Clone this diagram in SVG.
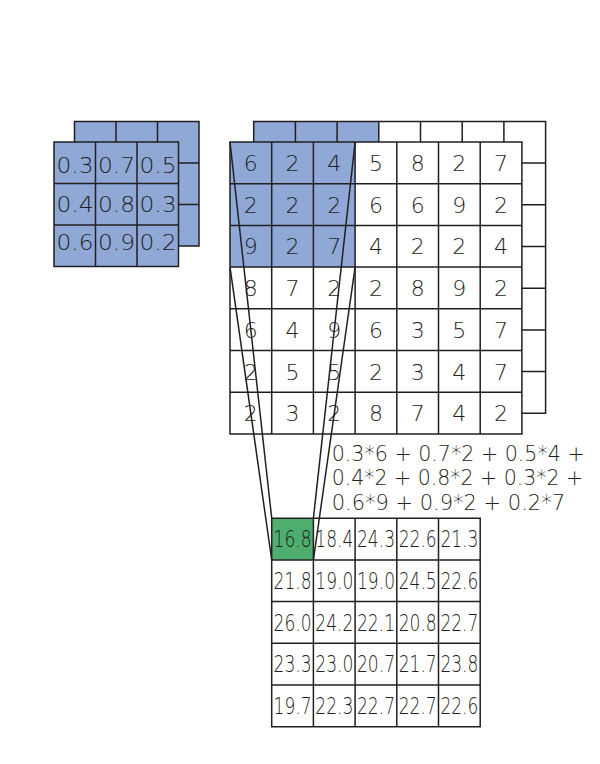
<svg xmlns="http://www.w3.org/2000/svg" width="600" height="764" viewBox="0 0 600 764">
<style>
.g{stroke:#231f20;stroke-width:1.5;fill:none}
.w{fill:#ffffff}
.b{fill:#8fa8d6}
.gr{fill:#4dae6e}
text{font-family:"DejaVu Sans","Liberation Sans",Arial,sans-serif;font-weight:200;fill:#231f20;text-anchor:middle}
.k text{font-size:22px}
.i text{font-size:22px}
.o text{font-size:23px}
.f text{font-size:22px;text-anchor:start}
.c{stroke:#231f20;stroke-width:1.5;fill:none}
</style>
<rect width="600" height="764" fill="#ffffff"/>
<g id="kernel">
<rect class="b" x="74.5" y="121.5" width="124.5" height="124.5"/>
<path class="g" d="M74.5 121.5H199V246H74.5Z M116 121.5V246 M157.5 121.5V246 M74.5 163H199 M74.5 204.5H199"/>
<rect class="b" x="54" y="142" width="124.5" height="124.5"/>
<path class="g" d="M54 142H178.5V266.5H54Z M95.5 142V266.5 M137 142V266.5 M54 183.5H178.5 M54 225H178.5"/>
<g class="k">
<text x="75" y="173.3" textLength="37" lengthAdjust="spacingAndGlyphs">0.3</text>
<text x="116.5" y="173.3" textLength="37" lengthAdjust="spacingAndGlyphs">0.7</text>
<text x="158" y="173.3" textLength="37" lengthAdjust="spacingAndGlyphs">0.5</text>
<text x="75" y="211.7" textLength="37" lengthAdjust="spacingAndGlyphs">0.4</text>
<text x="116.5" y="211.7" textLength="37" lengthAdjust="spacingAndGlyphs">0.8</text>
<text x="158" y="211.7" textLength="37" lengthAdjust="spacingAndGlyphs">0.3</text>
<text x="75" y="249.5" textLength="37" lengthAdjust="spacingAndGlyphs">0.6</text>
<text x="116.5" y="249.5" textLength="37" lengthAdjust="spacingAndGlyphs">0.9</text>
<text x="158" y="249.5" textLength="37" lengthAdjust="spacingAndGlyphs">0.2</text>
</g>
</g>
<g id="image">
<rect class="w" x="253.7" y="121.4" width="291.9" height="291.9"/>
<rect class="b" x="253.7" y="121.4" width="125.1" height="41.7"/>
<path class="g" d="M253.7 121.4H545.6V413.3H253.7Z M295.4 121.4V413.3 M337.1 121.4V413.3 M378.8 121.4V413.3 M420.5 121.4V413.3 M462.2 121.4V413.3 M503.9 121.4V413.3 M253.7 163.1H545.6 M253.7 204.8H545.6 M253.7 246.5H545.6 M253.7 288.2H545.6 M253.7 329.9H545.6 M253.7 371.6H545.6"/>
<rect class="w" x="230" y="142" width="291.9" height="291.9"/>
<rect class="b" x="230" y="142" width="125.1" height="125.1"/>
<path class="g" d="M230 142H521.9V433.9H230Z M271.7 142V433.9 M313.4 142V433.9 M355.1 142V433.9 M396.8 142V433.9 M438.5 142V433.9 M480.2 142V433.9 M230 183.7H521.9 M230 225.4H521.9 M230 267.1H521.9 M230 308.8H521.9 M230 350.5H521.9 M230 392.2H521.9"/>
<g class="i">
<text x="250.85" y="171">6</text><text x="292.55" y="171">2</text><text x="334.25" y="171">4</text><text x="375.95" y="171">5</text><text x="417.65" y="171">8</text><text x="459.35" y="171">2</text><text x="501.05" y="171">7</text>
<text x="250.85" y="212.7">2</text><text x="292.55" y="212.7">2</text><text x="334.25" y="212.7">2</text><text x="375.95" y="212.7">6</text><text x="417.65" y="212.7">6</text><text x="459.35" y="212.7">9</text><text x="501.05" y="212.7">2</text>
<text x="250.85" y="254.4">9</text><text x="292.55" y="254.4">2</text><text x="334.25" y="254.4">7</text><text x="375.95" y="254.4">4</text><text x="417.65" y="254.4">2</text><text x="459.35" y="254.4">2</text><text x="501.05" y="254.4">4</text>
<text x="250.85" y="296.1">8</text><text x="292.55" y="296.1">7</text><text x="334.25" y="296.1">2</text><text x="375.95" y="296.1">2</text><text x="417.65" y="296.1">8</text><text x="459.35" y="296.1">9</text><text x="501.05" y="296.1">2</text>
<text x="250.85" y="337.8">6</text><text x="292.55" y="337.8">4</text><text x="334.25" y="337.8">9</text><text x="375.95" y="337.8">6</text><text x="417.65" y="337.8">3</text><text x="459.35" y="337.8">5</text><text x="501.05" y="337.8">7</text>
<text x="250.85" y="379.5">2</text><text x="292.55" y="379.5">5</text><text x="334.25" y="379.5">5</text><text x="375.95" y="379.5">2</text><text x="417.65" y="379.5">3</text><text x="459.35" y="379.5">4</text><text x="501.05" y="379.5">7</text>
<text x="250.85" y="421.2">2</text><text x="292.55" y="421.2">3</text><text x="334.25" y="421.2">2</text><text x="375.95" y="421.2">8</text><text x="417.65" y="421.2">7</text><text x="459.35" y="421.2">4</text><text x="501.05" y="421.2">2</text>
</g>
</g>
<g id="formula" class="f">
<text x="331.7" y="460.7" textLength="253" lengthAdjust="spacingAndGlyphs">0.3*6 + 0.7*2 + 0.5*4 +</text>
<text x="331.7" y="484.6" textLength="251.6" lengthAdjust="spacingAndGlyphs">0.4*2 + 0.8*2 + 0.3*2 +</text>
<text x="331.7" y="509.6" textLength="233.3" lengthAdjust="spacingAndGlyphs">0.6*9 + 0.9*2 + 0.2*7</text>
</g>
<g id="output">
<rect class="w" x="271.7" y="518.2" width="208.5" height="208.5"/>
<rect class="gr" x="271.7" y="518.2" width="41.7" height="41.7"/>
<path class="g" d="M271.7 518.2H480.2V726.7H271.7Z M313.4 518.2V726.7 M355.1 518.2V726.7 M396.8 518.2V726.7 M438.5 518.2V726.7 M271.7 559.9H480.2 M271.7 601.6H480.2 M271.7 643.3H480.2 M271.7 685H480.2"/>
<g class="o">
<text x="292.6" y="547.3" textLength="38" lengthAdjust="spacingAndGlyphs">16.8</text><text x="334.3" y="547.3" textLength="38" lengthAdjust="spacingAndGlyphs">18.4</text><text x="376" y="547.3" textLength="38" lengthAdjust="spacingAndGlyphs">24.3</text><text x="417.7" y="547.3" textLength="38" lengthAdjust="spacingAndGlyphs">22.6</text><text x="459.4" y="547.3" textLength="38" lengthAdjust="spacingAndGlyphs">21.3</text>
<text x="292.6" y="589" textLength="38" lengthAdjust="spacingAndGlyphs">21.8</text><text x="334.3" y="589" textLength="38" lengthAdjust="spacingAndGlyphs">19.0</text><text x="376" y="589" textLength="38" lengthAdjust="spacingAndGlyphs">19.0</text><text x="417.7" y="589" textLength="38" lengthAdjust="spacingAndGlyphs">24.5</text><text x="459.4" y="589" textLength="38" lengthAdjust="spacingAndGlyphs">22.6</text>
<text x="292.6" y="630.7" textLength="38" lengthAdjust="spacingAndGlyphs">26.0</text><text x="334.3" y="630.7" textLength="38" lengthAdjust="spacingAndGlyphs">24.2</text><text x="376" y="630.7" textLength="38" lengthAdjust="spacingAndGlyphs">22.1</text><text x="417.7" y="630.7" textLength="38" lengthAdjust="spacingAndGlyphs">20.8</text><text x="459.4" y="630.7" textLength="38" lengthAdjust="spacingAndGlyphs">22.7</text>
<text x="292.6" y="672.4" textLength="38" lengthAdjust="spacingAndGlyphs">23.3</text><text x="334.3" y="672.4" textLength="38" lengthAdjust="spacingAndGlyphs">23.0</text><text x="376" y="672.4" textLength="38" lengthAdjust="spacingAndGlyphs">20.7</text><text x="417.7" y="672.4" textLength="38" lengthAdjust="spacingAndGlyphs">21.7</text><text x="459.4" y="672.4" textLength="38" lengthAdjust="spacingAndGlyphs">23.8</text>
<text x="292.6" y="714.1" textLength="38" lengthAdjust="spacingAndGlyphs">19.7</text><text x="334.3" y="714.1" textLength="38" lengthAdjust="spacingAndGlyphs">22.3</text><text x="376" y="714.1" textLength="38" lengthAdjust="spacingAndGlyphs">22.7</text><text x="417.7" y="714.1" textLength="38" lengthAdjust="spacingAndGlyphs">22.7</text><text x="459.4" y="714.1" textLength="38" lengthAdjust="spacingAndGlyphs">22.6</text>
</g>
</g>
<g id="connectors" class="c">
<line x1="230" y1="142" x2="271.7" y2="518.2"/>
<line x1="230" y1="267.1" x2="271.7" y2="559.9"/>
<line x1="355.1" y1="142" x2="313.4" y2="518.2"/>
<line x1="355.1" y1="267.1" x2="313.4" y2="559.9"/>
</g>
</svg>
